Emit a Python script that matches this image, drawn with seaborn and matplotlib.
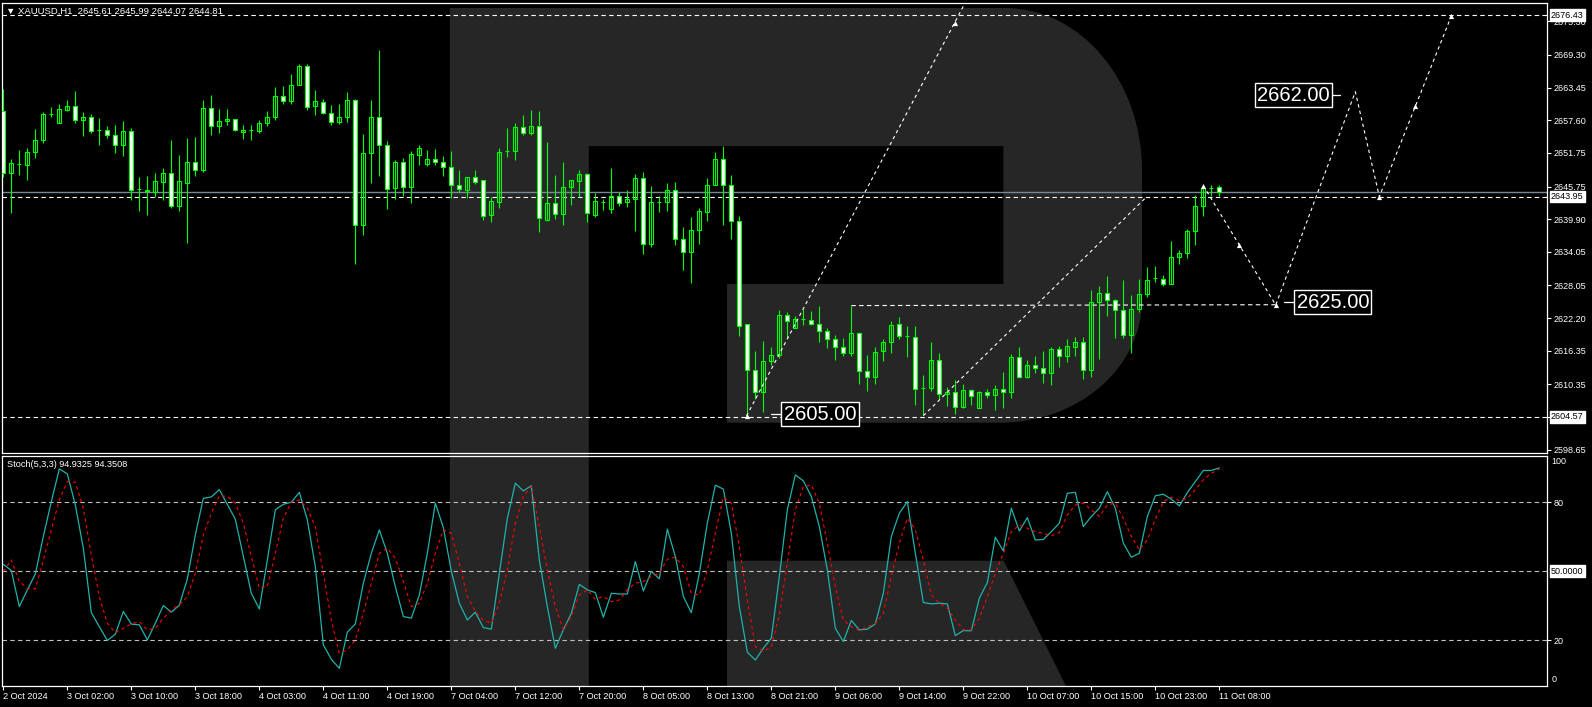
import numpy as np
import pandas as pd
import matplotlib
matplotlib.use("Agg")
import matplotlib.pyplot as plt
import seaborn as sns
from matplotlib.path import Path
from matplotlib.patches import PathPatch, Polygon
import matplotlib.transforms as mtransforms

# ---------------- data ----------------
opens = [2659.3, 2648.1, 2649.75, 2649.6, 2651.95, 2654.0, 2658.65, 2657.1, 2659.4, 2660.2,
         2657.65, 2658.25, 2655.9, 2655.9, 2655.0, 2653.2, 2655.75, 2645.25, 2645.0, 2644.8,
         2646.6, 2648.1, 2642.3, 2646.4, 2650.2, 2648.7, 2659.85, 2656.6, 2657.5, 2657.9,
         2655.5, 2655.85, 2655.7, 2657.1, 2658.2, 2662.0, 2661.0, 2663.9, 2667.35, 2660.15,
         2660.9, 2658.95, 2657.35, 2658.25, 2661.25, 2638.8, 2651.8, 2658.25, 2653.1, 2645.4,
         2650.05, 2645.6, 2651.45, 2649.85, 2650.75, 2650.05, 2649.3, 2646.1, 2645.2, 2647.45,
         2646.85, 2640.7, 2643.05, 2652.1, 2652.1, 2656.45, 2655.3, 2656.65, 2639.75, 2642.75,
         2640.75, 2645.6, 2646.8, 2647.9, 2640.7, 2643.0, 2641.65, 2644.1, 2642.9, 2643.45,
         2647.2, 2635.55, 2642.95, 2643.05, 2645.05, 2636.3, 2634.0, 2637.9, 2641.25, 2646.1,
         2650.75, 2645.95, 2639.5, 2621.15, 2613.0, 2609.05, 2614.6, 2615.65, 2622.8, 2620.4,
         2622.0, 2621.8, 2621.15, 2619.9, 2618.5, 2617.1, 2615.9, 2619.55, 2612.8, 2611.7,
         2616.3, 2617.95, 2621.15, 2618.95, 2618.85, 2609.7, 2609.7, 2614.75, 2608.6, 2609.05,
         2606.3, 2609.3, 2606.15, 2608.9, 2608.45, 2609.45, 2609.05, 2615.3, 2611.65, 2613.85,
         2613.3, 2612.35, 2616.75, 2615.4, 2617.05, 2617.95, 2612.95, 2625.1, 2626.7, 2625.45,
         2623.65, 2619.15, 2623.85, 2626.5, 2629.3, 2629.2, 2628.3, 2633.1, 2633.8, 2637.75,
         2642.2, 2645.45, 2645.61]
highs = [2663.2, 2650.6, 2652.2, 2652.7, 2656.0, 2659.0, 2659.9, 2660.45, 2661.15, 2662.9,
         2659.0, 2658.65, 2657.95, 2656.5, 2656.75, 2657.4, 2656.2, 2647.4, 2647.6, 2648.1,
         2649.0, 2654.0, 2651.35, 2654.4, 2654.55, 2661.3, 2662.05, 2659.7, 2659.55, 2657.9,
         2656.7, 2656.7, 2657.6, 2659.2, 2663.5, 2663.65, 2665.8, 2667.75, 2667.6, 2663.1,
         2661.45, 2660.25, 2660.6, 2662.6, 2661.45, 2655.1, 2661.15, 2670.25, 2653.85, 2650.45,
         2650.8, 2652.05, 2653.25, 2652.25, 2652.4, 2651.15, 2652.05, 2648.7, 2647.4, 2648.7,
         2646.9, 2643.9, 2652.7, 2656.3, 2657.2, 2658.5, 2659.5, 2659.2, 2653.65, 2647.8,
         2650.1, 2646.9, 2648.7, 2648.15, 2644.6, 2643.6, 2649.05, 2644.7, 2645.1, 2648.0,
         2648.3, 2645.8, 2644.05, 2646.4, 2646.55, 2638.45, 2640.25, 2641.85, 2647.2, 2651.9,
         2652.95, 2647.8, 2640.5, 2621.2, 2616.3, 2618.2, 2617.05, 2623.7, 2623.25, 2622.5,
         2623.85, 2623.4, 2624.3, 2620.5, 2619.1, 2618.7, 2624.45, 2619.7, 2615.65, 2617.0,
         2618.5, 2621.6, 2622.4, 2620.75, 2620.75, 2611.95, 2618.0, 2615.9, 2609.9, 2611.05,
         2610.35, 2609.6, 2609.1, 2609.5, 2610.2, 2612.65, 2615.7, 2616.95, 2614.8, 2615.5,
         2616.4, 2617.1, 2617.3, 2618.55, 2618.85, 2618.9, 2627.3, 2628.0, 2629.8, 2625.6,
         2629.05, 2626.4, 2629.25, 2631.4, 2631.6, 2629.9, 2636.0, 2634.4, 2638.1, 2644.2,
         2645.7, 2645.95, 2645.99]
lows = [2647.4, 2640.95, 2647.85, 2646.9, 2650.9, 2653.55, 2658.1, 2657.1, 2659.2, 2657.2,
        2654.75, 2655.3, 2653.1, 2654.4, 2651.7, 2651.15, 2643.3, 2641.4, 2640.65, 2643.9,
        2643.3, 2641.9, 2641.4, 2635.7, 2647.65, 2648.3, 2654.9, 2655.25, 2656.7, 2655.6,
        2654.2, 2654.0, 2655.3, 2656.5, 2657.7, 2660.5, 2660.45, 2663.9, 2659.35, 2658.5,
        2658.7, 2656.75, 2657.0, 2657.3, 2631.85, 2637.15, 2646.3, 2647.65, 2641.8, 2643.55,
        2644.1, 2642.75, 2649.6, 2649.45, 2649.65, 2647.65, 2643.75, 2644.75, 2643.75, 2646.2,
        2639.75, 2639.4, 2641.95, 2651.05, 2650.45, 2654.9, 2654.9, 2637.7, 2639.6, 2640.0,
        2638.85, 2642.5, 2643.9, 2639.45, 2640.35, 2641.55, 2640.95, 2642.3, 2642.15, 2637.85,
        2633.6, 2635.0, 2641.2, 2641.4, 2635.35, 2630.85, 2628.4, 2635.55, 2639.65, 2646.0,
        2638.8, 2636.4, 2618.95, 2604.6, 2607.7, 2605.4, 2613.75, 2615.05, 2618.7, 2620.4,
        2621.05, 2620.9, 2618.0, 2616.8, 2614.8, 2615.4, 2615.5, 2610.5, 2609.15, 2610.35,
        2614.6, 2616.0, 2618.45, 2615.2, 2606.75, 2604.8, 2609.15, 2607.7, 2606.45, 2605.0,
        2606.1, 2606.6, 2606.15, 2607.85, 2605.8, 2606.2, 2607.9, 2611.5, 2611.5, 2612.3,
        2610.6, 2610.2, 2613.45, 2614.3, 2615.5, 2611.25, 2611.65, 2614.85, 2622.55, 2618.6,
        2618.65, 2615.9, 2623.25, 2625.9, 2628.6, 2627.9, 2628.3, 2631.8, 2632.9, 2635.2,
        2640.5, 2644.1, 2644.07]
closes = [2648.1, 2649.9, 2649.75, 2652.0, 2654.1, 2658.65, 2658.75, 2659.55, 2660.2, 2657.6,
          2658.25, 2655.7, 2655.9, 2654.95, 2653.2, 2655.75, 2645.2, 2645.25, 2645.1, 2646.65,
          2648.1, 2642.3, 2646.65, 2650.05, 2648.7, 2659.85, 2656.6, 2657.55, 2657.9, 2655.9,
          2655.9, 2655.85, 2657.2, 2658.25, 2662.0, 2661.0, 2663.95, 2667.35, 2659.95, 2661.1,
          2658.95, 2657.35, 2658.25, 2661.25, 2638.8, 2651.8, 2658.25, 2653.1, 2645.25, 2650.05,
          2645.6, 2651.65, 2652.7, 2650.75, 2650.05, 2649.3, 2646.05, 2645.25, 2647.4, 2646.6,
          2640.55, 2643.1, 2652.0, 2652.1, 2656.45, 2655.3, 2656.65, 2640.05, 2642.75, 2640.75,
          2645.6, 2646.85, 2647.9, 2640.95, 2643.1, 2643.0, 2644.1, 2642.85, 2643.6, 2647.2,
          2635.55, 2642.9, 2642.95, 2645.05, 2636.3, 2634.0, 2637.95, 2641.35, 2646.1, 2650.75,
          2645.95, 2639.5, 2620.8, 2613.0, 2609.05, 2614.6, 2615.65, 2622.8, 2621.7, 2622.05,
          2622.0, 2621.1, 2619.9, 2618.45, 2617.1, 2616.0, 2619.55, 2612.8, 2611.7, 2616.2,
          2617.95, 2621.0, 2618.95, 2618.95, 2609.6, 2609.7, 2614.75, 2608.6, 2609.05, 2606.35,
          2609.3, 2608.35, 2608.9, 2608.45, 2609.45, 2609.05, 2615.3, 2611.65, 2613.85, 2613.25,
          2612.35, 2616.75, 2615.4, 2617.25, 2618.0, 2612.95, 2625.1, 2626.7, 2625.45, 2623.65,
          2619.15, 2623.85, 2626.5, 2629.0, 2629.3, 2628.3, 2633.1, 2633.8, 2637.8, 2642.2,
          2645.4, 2645.45, 2644.81]
stoch_k = [53.0, 50.3, 34.6, 41.9, 48.8, 65.1, 80.3, 94.5, 92.3, 78.8,
           60.0, 32.0, 25.9, 19.9, 22.6, 32.5, 27.0, 26.7, 20.1, 27.4,
           35.1, 32.2, 35.2, 46.7, 65.8, 81.7, 82.3, 85.5, 79.1, 72.6,
           56.4, 40.4, 33.6, 54.9, 76.7, 79.1, 80.0, 84.3, 72.3, 52.0,
           18.0, 11.7, 7.8, 23.5, 27.1, 44.8, 57.8, 68.0, 57.8, 43.3,
           30.3, 29.6, 39.7, 57.8, 79.6, 69.0, 50.0, 36.1, 28.8, 32.2,
           25.5, 24.8, 49.1, 73.0, 88.3, 84.9, 87.2, 54.9, 34.6, 16.5,
           24.5, 31.7, 44.3, 41.9, 40.7, 30.0, 40.4, 40.1, 40.1, 54.2,
           41.4, 49.9, 46.7, 68.3, 56.4, 39.0, 32.0, 49.1, 70.9, 87.4,
           85.7, 66.5, 34.6, 14.8, 11.4, 16.5, 20.9, 47.7, 76.7, 91.9,
           89.3, 82.5, 69.4, 50.6, 25.2, 19.4, 28.6, 24.5, 24.8, 27.1,
           40.4, 65.1, 75.2, 80.3, 57.8, 36.4, 35.8, 36.1, 35.8, 22.0,
           24.2, 24.1, 38.3, 45.1, 64.8, 58.8, 77.4, 67.5, 73.3, 63.6,
           63.8, 67.2, 70.9, 83.9, 84.3, 69.4, 73.8, 77.4, 84.6, 77.4,
           62.2, 56.1, 57.8, 73.8, 82.8, 83.5, 81.3, 78.4, 84.2, 89.0,
           93.8, 93.8, 94.93]
stoch_d = [49.9, 54.9, 45.5, 42.6, 42.3, 54.9, 68.0, 81.0, 89.0, 88.7,
           77.4, 57.1, 39.0, 27.4, 23.3, 25.2, 27.1, 28.1, 24.5, 25.2,
           29.6, 33.2, 35.4, 39.0, 49.1, 65.8, 75.2, 82.9, 82.5, 79.6,
           70.9, 56.4, 42.6, 43.3, 57.8, 73.0, 80.0, 81.0, 77.4, 69.4,
           49.1, 28.8, 14.3, 15.8, 20.1, 31.7, 44.8, 57.8, 60.0, 55.7,
           45.5, 34.6, 36.1, 44.8, 57.8, 68.0, 66.5, 53.5, 39.0, 32.5,
           28.6, 27.4, 36.1, 50.6, 70.9, 82.5, 86.8, 69.4, 50.6, 34.6,
           24.5, 30.3, 39.7, 41.9, 37.8, 39.0, 36.8, 37.5, 41.9, 44.8,
           45.5, 47.7, 49.1, 55.2, 56.1, 52.0, 40.4, 39.7, 50.6, 66.5,
           82.2, 79.6, 60.7, 37.5, 17.2, 15.1, 17.2, 31.0, 53.5, 76.7,
           86.8, 87.5, 79.6, 62.2, 43.3, 28.8, 25.9, 24.2, 25.9, 27.1,
           31.7, 47.7, 62.2, 73.0, 68.0, 54.9, 39.7, 36.1, 33.9, 28.8,
           24.5, 24.5, 29.6, 39.0, 49.1, 57.8, 67.2, 70.1, 68.7, 67.2,
           66.5, 65.4, 66.8, 74.5, 78.8, 79.6, 76.7, 73.8, 78.8, 79.6,
           73.0, 65.1, 59.3, 63.6, 72.6, 80.3, 82.2, 80.7, 81.7, 85.4,
           89.7, 92.6, 94.35]
time_labels = ["2 Oct 2024", "3 Oct 02:00", "3 Oct 10:00", "3 Oct 18:00", "4 Oct 03:00",
               "4 Oct 11:00", "4 Oct 19:00", "7 Oct 04:00", "7 Oct 12:00", "7 Oct 20:00",
               "8 Oct 05:00", "8 Oct 13:00", "8 Oct 21:00", "9 Oct 06:00", "9 Oct 14:00",
               "9 Oct 22:00", "10 Oct 07:00", "10 Oct 15:00", "10 Oct 23:00", "11 Oct 08:00"]
label_bar_step = 8
price_tick_values = [2675.30, 2669.30, 2663.45, 2657.60, 2651.75, 2645.75, 2639.90, 2634.05,
                     2628.05, 2622.20, 2616.35, 2610.35, 2604.50, 2598.65]
level_prices = [2676.43, 2643.95, 2604.57]
bid_price = 2644.81
# forecast / trend lines (bar index, price)
trend1_x = [92.9, 120.0]
trend1_y = [2604.7, 2678.0]
trend2_x = [115.0, 142.9]
trend2_y = [2604.75, 2643.9]
resist_x = [106.0, 159.05]
resist_y = [2624.45, 2624.6]
zigzag_x = [150.0, 159.05, 169.0, 172.0, 181.0]
zigzag_y = [2645.9, 2624.55, 2662.7, 2643.93, 2676.25]
arrow_x = [150.0, 154.5, 159.05, 172.0, 176.5, 181.0, 119.0, 92.9]
arrow_y = [2645.9, 2635.23, 2624.55, 2643.93, 2660.15, 2676.25, 2674.95, 2604.7]
target_labels = ["2662.00", "2625.00", "2605.00"]
target_box_x = [156.5, 161.4, 97.3]
target_y = [2662.07, 2625.05, 2605.02]
target_line_x0 = [165.8, 160.1, 96.0]
target_line_x1 = [167.1, 161.4, 97.3]

# ---------------- style ----------------
sns.set_style("dark")
plt.rcParams['font.family'] = ['Liberation Sans', 'DejaVu Sans']
W, H = 1592, 707
fig = plt.figure(figsize=(W / 100, H / 100), dpi=100, facecolor='black')

def fx(x):
    return x / W

def fy(y):
    return 1 - y / H

GREEN = '#00ff00'
WM = '#262626'

# watermark "R" (figure pixel coordinates)
verts = [(449.8, 8), (1005, 8),
         (1080.6, 8), (1142, 80.6), (1142, 170),
         (1142, 300),
         (1142, 367.7), (1078.4, 422.7), (1000, 422.7),
         (727, 422.7), (727, 284), (1003.4, 284), (1003.4, 146), (588.8, 146),
         (588.8, 686), (449.8, 686), (449.8, 8)]
codes = [Path.MOVETO, Path.LINETO,
         Path.CURVE4, Path.CURVE4, Path.CURVE4,
         Path.LINETO,
         Path.CURVE4, Path.CURVE4, Path.CURVE4,
         Path.LINETO, Path.LINETO, Path.LINETO, Path.LINETO, Path.LINETO,
         Path.LINETO, Path.LINETO, Path.CLOSEPOLY]
verts = [(fx(a), fy(b)) for a, b in verts]
fig.add_artist(PathPatch(Path(verts, codes), facecolor=WM, edgecolor='none',
                         transform=fig.transFigure, zorder=-5))
leg = [(727, 560.7), (1003.7, 560.7), (1066, 686), (727, 686)]
fig.add_artist(Polygon([(fx(a), fy(b)) for a, b in leg], closed=True, facecolor=WM,
                       edgecolor='none', transform=fig.transFigure, zorder=-5))

# axes
ax1 = fig.add_axes([fx(2), fy(453.3), (1546.7 - 2) / W, (453.3 - 3) / H])
ax2 = fig.add_axes([fx(2), fy(686), (1546.7 - 2) / W, (686 - 456) / H])
for ax in (ax1, ax2):
    ax.set_facecolor('none')
    ax.grid(False)
    for s in ax.spines.values():
        s.set_color('white')
        s.set_linewidth(0.9)
    ax.set_xlim(-0.166, 192.92)

n = len(opens)
idx = np.arange(n)
o = np.array(opens); c = np.array(closes); hi = np.array(highs); lo = np.array(lows)

# ---------------- price panel ----------------
ax1.set_ylim(2598.02, 2678.58)
ax1.vlines(idx, lo, hi, color=GREEN, linewidth=0.8, zorder=3)
bear = c < o
bot = np.minimum(o, c)
hgt = np.abs(c - o)
ax1.bar(idx[bear], hgt[bear], bottom=bot[bear], width=0.5, facecolor='white',
        edgecolor=GREEN, linewidth=0.8, zorder=4)
ax1.bar(idx[~bear], hgt[~bear], bottom=bot[~bear], width=0.5, facecolor='none',
        edgecolor=GREEN, linewidth=0.8, zorder=4)

for lp in level_prices:
    ax1.axhline(lp, color='white', linewidth=0.8, linestyle=(0, (4, 3)), zorder=2)
ax1.axhline(bid_price, color='#778899', linewidth=1.0, zorder=2)

dot = (0, (3, 3))
ax1.plot(trend1_x, trend1_y, color='white', lw=0.8, ls=dot, zorder=5)
ax1.plot(trend2_x, trend2_y, color='white', lw=0.8, ls=dot, zorder=5)
ax1.plot(resist_x, resist_y, color='white', lw=0.8, ls=(0, (4, 3)), zorder=5)
ax1.plot(zigzag_x, zigzag_y, color='white', lw=0.8, ls=dot, zorder=5)
ax1.scatter(arrow_x, arrow_y, marker='^', s=14, color='white', zorder=6, linewidths=0)

for t, bx, ty, l0, l1 in zip(target_labels, target_box_x, target_y, target_line_x0, target_line_x1):
    ax1.plot([l0, l1], [ty, ty], color='white', lw=0.9, zorder=6)
    ax1.text(bx + 0.25, ty, t, fontsize=14.5, color='white', ha='left', va='center',
             zorder=7,
             bbox=dict(boxstyle='square,pad=0.12', facecolor='black', edgecolor='white', linewidth=1.0))

ax1.yaxis.tick_right()
ax1.set_yticks(price_tick_values)
ax1.set_yticklabels([f"{v:.2f}" for v in price_tick_values])
ax1.tick_params(axis='y', colors='white', labelcolor='white', labelsize=6.5, length=3,
                width=0.8, direction='out', pad=2, right=True, left=False)
ax1.set_xticks([])
ax1.set_xlabel(''); ax1.set_ylabel('')

trans1 = mtransforms.blended_transform_factory(ax1.transAxes, ax1.transData)
for lp in level_prices:
    ax1.text(1.0028, lp, f"{lp:.2f}", transform=trans1, fontsize=6.5, color='black',
             ha='left', va='center', clip_on=False, zorder=8,
             bbox=dict(boxstyle='square,pad=0.15', facecolor='white', edgecolor='white'))

# ---------------- stochastic panel ----------------
ax2.set_ylim(0.1, 100.1)
for lv in (20, 50, 80):
    ax2.axhline(lv, color='#c0c0c0', linewidth=0.8, linestyle=(0, (4, 3)), zorder=2)
dfk = pd.DataFrame({'bar': idx, 'k': stoch_k, 'd': stoch_d})
sns.lineplot(data=dfk, x='bar', y='k', ax=ax2, color='#20b2aa', linewidth=0.9, zorder=4)
sns.lineplot(data=dfk, x='bar', y='d', ax=ax2, color='red', linewidth=0.8,
             linestyle=(0, (3, 3)), zorder=5)
ax2.set_xlabel(''); ax2.set_ylabel('')
ax2.set_yticks([80, 20])
ax2.yaxis.tick_right()
ax2.set_yticklabels(['80', '20'])
ax2.tick_params(axis='y', colors='white', labelcolor='white', labelsize=6.5, length=3,
                width=0.8, direction='out', pad=2, right=True, left=False)
trans2 = mtransforms.blended_transform_factory(ax2.transAxes, ax2.transData)
ax2.text(1.0032, 97.5, "100", transform=trans2, fontsize=6.5, color='white', ha='left',
         va='center', clip_on=False)
ax2.text(1.0032, 3.0, "0", transform=trans2, fontsize=6.5, color='white', ha='left',
         va='center', clip_on=False)
ax2.text(1.0028, 50, "50.0000", transform=trans2, fontsize=6.5, color='black', ha='left',
         va='center', clip_on=False, zorder=8,
         bbox=dict(boxstyle='square,pad=0.15', facecolor='white', edgecolor='white'))

tick_pos = [i * label_bar_step for i in range(len(time_labels))]
ax2.set_xticks(tick_pos)
ax2.set_xticklabels(time_labels, ha='left')
ax2.tick_params(axis='x', colors='white', labelcolor='white', labelsize=6.6, length=3,
                width=0.8, direction='out', pad=1.5, bottom=True)

# header texts
fig.text(fx(6), fy(11), "\u25bc XAUUSD,H1  2645.61 2645.99 2644.07 2644.81", fontsize=6.8,
         color='white', ha='left', va='center', family=['Liberation Sans', 'DejaVu Sans'])
fig.text(fx(7), fy(464.5), "Stoch(5,3,3) 94.9325 94.3508", fontsize=6.6, color='white',
         ha='left', va='center')

fig.savefig('out.png', dpi=100, facecolor='black')
